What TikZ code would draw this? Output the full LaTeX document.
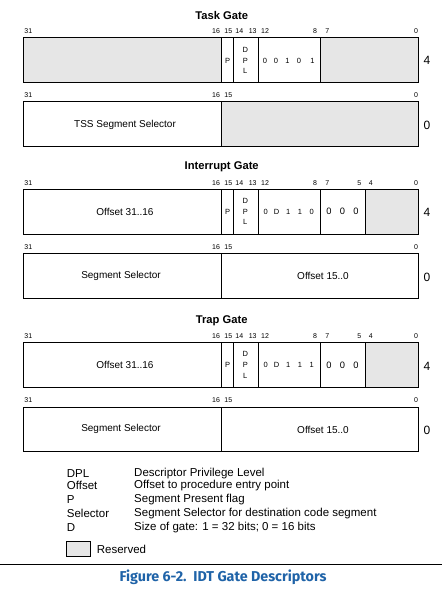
\documentclass[tikz,border=0pt]{standalone}
\usepackage{fontspec}
\setmainfont{Liberation Sans}
\newfontfamily\capfont{Fira Sans}
\definecolor{resv}{HTML}{E6E6E6}
\definecolor{capblue}{HTML}{1F63A8}
\begin{document}
\begin{tikzpicture}[x=1pt,y=-1pt,
  box/.style={draw=black,line width=0.9pt},
  resbox/.style={draw=black,line width=0.9pt,fill=resv},
  bitn/.style={font=\fontsize{7}{8}\selectfont,inner sep=0pt},
  ttl/.style={font=\fontsize{11.2}{13}\selectfont\bfseries,inner sep=0pt},
  fld/.style={font=\fontsize{10}{11}\selectfont,inner sep=0pt},
  sml/.style={font=\fontsize{7.5}{8}\selectfont,inner sep=0pt},
  zer/.style={font=\fontsize{9.3}{10}\selectfont,inner sep=0pt},
  idx/.style={font=\fontsize{12}{13}\selectfont,inner sep=0pt},
  leg/.style={font=\fontsize{11.5}{13}\selectfont,inner sep=0pt,anchor=west}]
\useasboundingbox (0,0) rectangle (442,592);
\fill[white] (0,0) rectangle (442,592);

% ================= Task Gate =================
\node[ttl] (t1) at (221.7,15.7) {Task Gate};
\foreach \lbl/\xx in {31/28.3,16/216,15/228.3,14/239.3,13/252.7,12/265,8/315,7/327.3,0/416}
  \node[bitn] at (\xx,31) {\lbl};
\draw[resbox] (23.3,37.3) rectangle (221.3,82);
\draw[box] (221.3,37.3) rectangle (233.3,82);
\draw[box] (233.3,37.3) rectangle (258.3,82);
\draw[box] (258.3,37.3) rectangle (320.3,82);
\draw[resbox] (320.3,37.3) rectangle (418.7,82);
\node[sml] (tp) at (227.5,60.7) {P};
\node[sml] at (245.3,50) {D};
\node[sml] at (245.3,60.7) {P};
\node[sml] at (245.3,71.3) {L};
\foreach \v/\xx in {0/265,0/276,1/287.5,0/299,1/312.5}
  \node[sml] at (\xx,60.7) {\v};
\node[idx] (t4) at (427,60.7) {4};

\foreach \lbl/\xx in {31/28.3,16/216,15/228.3,0/416}
  \node[bitn] at (\xx,95) {\lbl};
\draw[box] (23.3,101.3) rectangle (221.3,146);
\draw[resbox] (221.3,101.3) rectangle (418.7,146);
\node[fld] (tss) at (125,124.5) {TSS Segment Selector};
\node[idx] (t0) at (427,125) {0};

% ================= Interrupt Gate =================
\node[ttl] (i1) at (221.7,166.7) {Interrupt Gate};
\foreach \lbl/\xx in {31/28.3,16/216,15/228.3,14/239.3,13/252.7,12/265,8/315,7/327.3,5/359.3,4/370.7,0/416}
  \node[bitn] at (\xx,183.3) {\lbl};
\draw[box] (23.3,189.3) rectangle (221.3,234);
\draw[box] (221.3,189.3) rectangle (233.3,234);
\draw[box] (233.3,189.3) rectangle (258.3,234);
\draw[box] (258.3,189.3) rectangle (320.3,234);
\draw[box] (320.3,189.3) rectangle (365.3,234);
\draw[resbox] (365.3,189.3) rectangle (418.7,234);
\node[fld] (io) at (125,211.7) {Offset 31..16};
\node[sml] at (227.5,211.7) {P};
\node[sml] at (245.3,201) {D};
\node[sml] at (245.3,211.7) {P};
\node[sml] at (245.3,222.3) {L};
\foreach \v/\xx in {0/265.7,D/276.7,1/288.3,1/300,0/311.7}
  \node[sml] at (\xx,211.7) {\v};
\foreach \xx in {329,342.5,356}
  \node[zer] at (\xx,211.7) {0};
\node[idx] (i4) at (427,212.5) {4};

\foreach \lbl/\xx in {31/28.3,16/216,15/228.3,0/416}
  \node[bitn] at (\xx,247.3) {\lbl};
\draw[box] (23.3,253.3) rectangle (221.3,298);
\draw[box] (221.3,253.3) rectangle (418.7,298);
\node[fld] (iss) at (121,275.7) {Segment Selector};
\node[fld] (ioff) at (323,276.3) {Offset 15..0};
\node[idx] (i0) at (427,277) {0};

% ================= Trap Gate =================
\node[ttl] (r1) at (221.7,321) {Trap Gate};
\foreach \lbl/\xx in {31/28.3,16/216,15/228.3,14/239.3,13/252.7,12/265,8/315,7/327.3,5/359.3,4/370.7,0/416}
  \node[bitn] at (\xx,335.7) {\lbl};
\draw[box] (23.3,342.3) rectangle (221.3,387.3);
\draw[box] (221.3,342.3) rectangle (233.3,387.3);
\draw[box] (233.3,342.3) rectangle (258.3,387.3);
\draw[box] (258.3,342.3) rectangle (320.3,387.3);
\draw[box] (320.3,342.3) rectangle (365.3,387.3);
\draw[resbox] (365.3,342.3) rectangle (418.7,387.3);
\node[fld] (ro) at (125,365) {Offset 31..16};
\node[sml] at (227.5,365) {P};
\node[sml] at (245.3,354.3) {D};
\node[sml] at (245.3,365) {P};
\node[sml] at (245.3,375.7) {L};
\foreach \v/\xx in {0/265.7,D/276.7,1/288.3,1/300,1/311.7}
  \node[sml] at (\xx,365) {\v};
\foreach \xx in {329,342.5,356}
  \node[zer] at (\xx,365) {0};
\node[idx] (r4) at (427,366) {4};

\foreach \lbl/\xx in {31/28.3,16/216,15/228.3,0/416}
  \node[bitn] at (\xx,400.5) {\lbl};
\draw[box] (23.3,407) rectangle (221.3,451.7);
\draw[box] (221.3,407) rectangle (418.7,451.7);
\node[fld] (rss) at (121,429) {Segment Selector};
\node[fld] (roff) at (323,429.7) {Offset 15..0};
\node[idx] (r0) at (427,430.5) {0};

% ================= Legend =================
\foreach \k/\d/\yy in {DPL/Descriptor Privilege Level/473.3,
                       Offset/Offset to procedure entry point/485.8,
                       P/Segment Present flag/499.6,
                       Selector/Segment Selector for destination code segment/513.3,
                       D/Size of gate: 1 = 32 bits; 0 = 16 bits/527.3}{
  \node[leg] at (66.7,\yy) {\k};
  \node[leg] at (134,\yy) {\d};
}
\draw[resbox,line width=0.7pt] (66.7,541.7) rectangle (90.3,556.7);
\node[leg] (res) at (96.7,549) {Reserved};

% ================= Caption =================
\draw[line width=0.8pt] (0,564.3) -- (442,564.3);
\node[inner sep=0pt,text=capblue,font=\capfont\fontsize{14.3}{16}\selectfont\bfseries] (cap) at (223,577.7) {Figure 6-2.\ \ IDT Gate Descriptors};
\end{tikzpicture}
\end{document}
